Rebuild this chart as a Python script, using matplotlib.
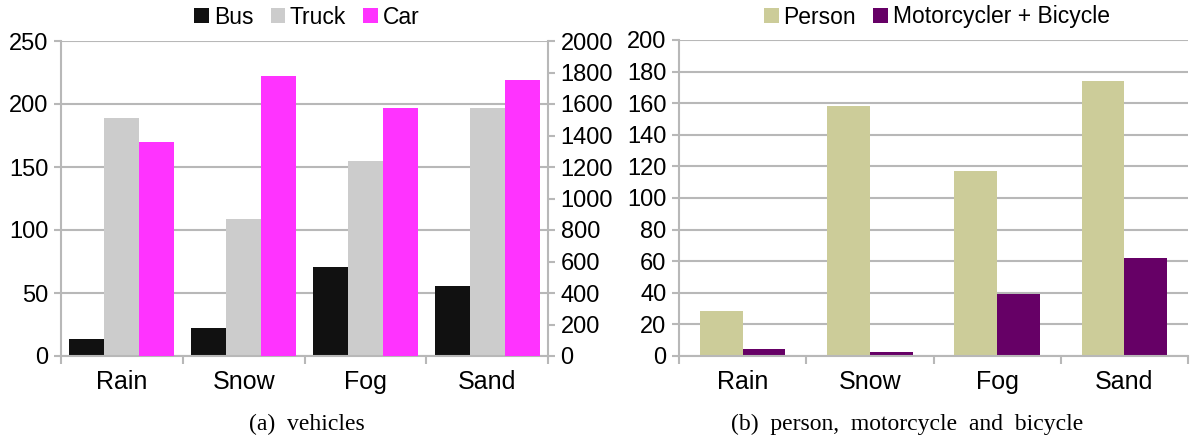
import numpy as np
import matplotlib.pyplot as plt
from matplotlib.ticker import FixedLocator, NullFormatter

plt.rcParams['font.family'] = ['Liberation Sans', 'DejaVu Sans']

categories = ["Rain", "Snow", "Fog", "Sand"]
bus = [13.5, 22, 71, 55.5]
truck = [188.5, 108.5, 154.5, 196.5]
car = [1357, 1780, 1573, 1750]          # plotted on the secondary axis
person = [28.5, 158, 117, 174]
moto_bike = [4.4, 2.5, 39, 62]

grid_col = "#b8b8b8"
W, H = 1190, 441
fig = plt.figure(figsize=(W / 100, H / 100), dpi=100)


def px_axes(x0, y0, x1, y1):
    return fig.add_axes([x0 / W, 1 - y1 / H, (x1 - x0) / W, (y1 - y0) / H])


def style(ax):
    for s in ["top", "right"]:
        ax.spines[s].set_visible(False)
    for s in ["left", "bottom"]:
        ax.spines[s].set_color(grid_col)
        ax.spines[s].set_linewidth(1.5)
    ax.set_axisbelow(True)
    ax.yaxis.grid(True, color=grid_col, linewidth=1.5)
    ax.tick_params(axis="y", colors=grid_col, labelcolor="black", labelsize=17,
                   length=5, width=1.5, pad=4)
    n = len(categories)
    ax.xaxis.set_major_locator(FixedLocator(np.arange(n + 1) - 0.5))
    ax.xaxis.set_major_formatter(NullFormatter())
    ax.xaxis.set_minor_locator(FixedLocator(np.arange(n)))
    ax.set_xticklabels(categories, minor=True)
    ax.tick_params(axis="x", which="major", colors=grid_col, length=6, width=1.5)
    ax.tick_params(axis="x", which="minor", length=0, labelsize=18, pad=10)
    ax.set_xlim(-0.5, n - 0.5)


x = np.arange(len(categories))
leg_kw = dict(loc="center", frameon=False, fontsize=16.5, handlelength=0.65,
              handleheight=0.65, handletextpad=0.2, columnspacing=0.75,
              borderaxespad=0)

# (a) vehicles
ax1 = px_axes(61, 41, 548, 356)
style(ax1)
bw = 0.287
ax1.bar(x - bw, bus, bw, color="#111111", label="Bus")
ax1.bar(x, truck, bw, color="#cccccc", label="Truck")
ax1.set_ylim(0, 250)
ax1.set_yticks(range(0, 251, 50))
ax2 = ax1.twinx()
ax2.bar(x + bw, car, bw, color="#ff33ff", label="Car")
ax2.set_ylim(0, 2000)
ax2.set_yticks(range(0, 2001, 200))
for s in ["top", "left", "bottom"]:
    ax2.spines[s].set_visible(False)
ax2.spines["right"].set_color(grid_col)
ax2.spines["right"].set_linewidth(1.5)
ax2.tick_params(axis="y", colors=grid_col, labelcolor="black", labelsize=17,
                length=5, width=1.5, pad=4)

h1, l1 = ax1.get_legend_handles_labels()
h2, l2 = ax2.get_legend_handles_labels()
fig.legend(h1 + h2, l1 + l2, bbox_to_anchor=(307 / W, 1 - 17 / H), ncol=3, **leg_kw)

# (b) person, motorcycle and bicycle
ax3 = px_axes(679, 40, 1188, 356)
style(ax3)
bw2 = 0.336
ax3.bar(x - bw2 / 2, person, bw2, color="#cccc99", label="Person")
ax3.bar(x + bw2 / 2, moto_bike, bw2, color="#660066", label="Motorcycler + Bicycle")
ax3.set_ylim(0, 200)
ax3.set_yticks(range(0, 201, 20))
h3, l3 = ax3.get_legend_handles_labels()
fig.legend(h3, l3, bbox_to_anchor=(937 / W, 1 - 17 / H), ncol=2, **leg_kw)

serif = ["Liberation Serif", "DejaVu Serif"]
fig.text(307 / W, 1 - 424 / H, "(a)  vehicles", ha="center", va="center",
         family=serif, fontsize=17)
fig.text(907 / W, 1 - 424 / H, "(b)  person,  motorcycle  and  bicycle",
         ha="center", va="center", family=serif, fontsize=17)

fig.savefig("out.png", dpi=100)
